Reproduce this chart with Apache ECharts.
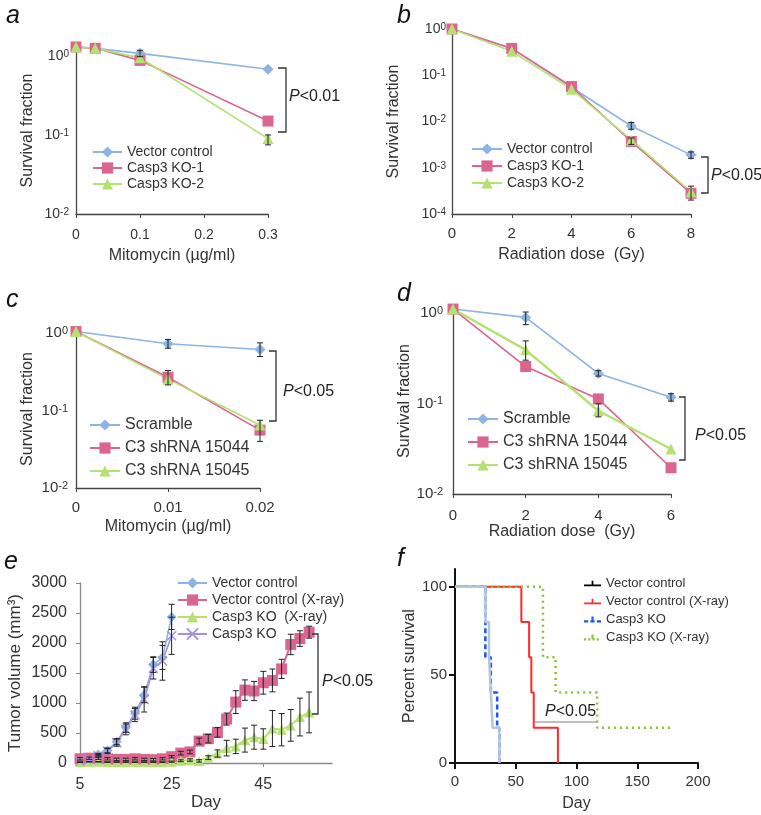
<!DOCTYPE html>
<html><head><meta charset="utf-8">
<script src="https://cdn.jsdelivr.net/npm/echarts@6/dist/echarts.min.js"></script>
<style>html,body{margin:0;padding:0;background:#fff}#c{width:761px;height:815px}</style>
</head><body><div id="c"></div>
<script>
// ---------------- Panel a ----------------
const aDose = [0, 0.03, 0.1, 0.3];
const aVector = [1.3, 1.25, 1.08, 0.68];
const aKO1 = [1.3, 1.25, 0.88, 0.15];
const aKO2 = [1.3, 1.25, 0.95, 0.09];
const aErr = [[0.1, 0.98, 1.18], [0.3, 0.075, 0.1]];
// ---------------- Panel b ----------------
const bDose = [0, 2, 4, 6, 8];
const bVector = [1.0, 0.38, 0.055, 0.008, 0.0019];
const bKO1 = [1.0, 0.38, 0.057, 0.0037, 0.00028];
const bKO2 = [1.0, 0.33, 0.05, 0.004, 0.0003];
const bErr = [[6, 0.0068, 0.0095], [8, 0.0016, 0.0022], [6, 0.0032, 0.0044], [8, 0.0002, 0.0004]];
// ---------------- Panel c ----------------
const cDose = [0, 0.01, 0.02];
const cScramble = [1.05, 0.73, 0.615];
const c15044 = [1.05, 0.27, 0.056];
const c15045 = [1.05, 0.255, 0.065];
const cErr = [[0.01, 0.64, 0.83], [0.02, 0.5, 0.75], [0.01, 0.215, 0.33], [0.02, 0.04, 0.075]];
// ---------------- Panel d ----------------
const dDose = [0, 2, 4, 6];
const dScramble = [1.1, 0.89, 0.214, 0.117];
const d15044 = [1.1, 0.255, 0.112, 0.0195];
const d15045 = [1.1, 0.39, 0.083, 0.0314];
const dErr = [[2, 0.74, 1.02], [4, 0.2, 0.23], [6, 0.106, 0.128], [2, 0.3, 0.49], [4, 0.071, 0.099]];
// ---------------- Panel e ----------------
const eDaysEarly = [5, 7, 9, 11, 13, 15, 17, 19, 21, 23, 25];
const eVector = [28, 55, 140, 210, 355, 590, 830, 1135, 1640, 1760, 2435];
const eVectorErr = [0, 0, 20, 40, 50, 80, 100, 130, 130, 200, 210];
const eKO = [30, 60, 120, 200, 340, 560, 800, 1060, 1580, 1700, 2120];
const eKOErr = [0, 0, 20, 40, 60, 90, 110, 210, 180, 320, 310];
const eDaysAll = [5, 7, 9, 11, 13, 15, 17, 19, 21, 23, 25, 27, 29, 31, 33, 35, 37, 39, 41, 43, 45, 47, 49, 51, 53, 55];
const eVectorXray = [70, 80, 80, 70, 60, 60, 70, 60, 55, 70, 105, 165, 185, 365, 405, 510, 732, 1015, 1215, 1200, 1337, 1376, 1568, 1976, 2074, 2180];
const eVectorXrayErr = [20, 20, 20, 20, 20, 20, 20, 20, 20, 20, 20, 30, 30, 50, 70, 80, 100, 190, 170, 160, 190, 190, 160, 170, 130, 100];
const eKOXray = [15, 20, 20, 15, 15, 15, 15, 15, 15, 15, 22, 38, 50, 35, 90, 158, 248, 277, 382, 430, 400, 575, 555, 627, 766, 843];
const eKOXrayErr = [5, 5, 5, 5, 5, 5, 5, 5, 5, 5, 10, 15, 20, 20, 30, 60, 130, 120, 200, 200, 170, 300, 270, 265, 315, 340];
const eDayLabels = [5, 25, 45];
// ---------------- Panel f ----------------
const fVectorT = [0, 25, 28, 29.5, 31, 36.5];
const fVectorS = [100, 80, 60, 40, 20, 0];
const fVectorXrayT = [0, 54.6, 61, 62.8, 64.8, 84.7];
const fVectorXrayS = [100, 80, 60, 40, 20, 0];
const fKOT = [0, 25, 29.5, 34.7, 36.5];
const fKOS = [100, 60, 40, 20, 0];
const fKOXrayT = [0, 72.4, 82.8, 117, 180];
const fKOXrayS = [100, 60, 40, 20, 20];
const fPctTicks = [0, 50, 100];
const logMinorSteps = [2, 3, 4, 5, 6, 7, 8, 9];

const FONT = '"Liberation Sans", Arial, sans-serif';
const TXT = '#333';
const AX = '#444';
const C_BLUE = '#8DB4E2', C_PINK = '#DA6690', C_GREEN = '#B5E173', C_PURPLE = '#9F93E6';

const zip = (xs, ys) => xs.map((x, i) => [x, ys[i]]);
function lineS(name, gi, xs, ys, color, symbol, size, extra) {
  return Object.assign({
    name, type: 'line', xAxisIndex: gi, yAxisIndex: gi, data: zip(xs, ys),
    symbol, symbolSize: size, showAllSymbol: true,
    lineStyle: { color, width: 1.6 }, itemStyle: { color },
    z: 3, clip: false, animation: false
  }, extra || {});
}
function errS(gi, data, cap) {
  const w = cap || 3;
  return {
    type: 'custom', xAxisIndex: gi, yAxisIndex: gi, data, silent: true, clip: false, z: 4, animation: false,
    renderItem: (p, api) => {
      const x = api.value(0), lo = api.value(1), hi = api.value(2);
      const a = api.coord([x, hi]), b = api.coord([x, lo]);
      const st = { stroke: '#222', lineWidth: 1 };
      return { type: 'group', children: [
        { type: 'line', shape: { x1: a[0], y1: a[1], x2: b[0], y2: b[1] }, style: st },
        { type: 'line', shape: { x1: a[0] - w, y1: a[1], x2: a[0] + w, y2: a[1] }, style: st },
        { type: 'line', shape: { x1: b[0] - w, y1: b[1], x2: b[0] + w, y2: b[1] }, style: st }
      ]};
    }
  };
}
function symErr(xs, ys, es) {
  const out = [];
  xs.forEach((x, i) => { if (es[i] > 0) out.push([x, Math.max(0, ys[i] - es[i]), ys[i] + es[i]]); });
  return out;
}
function logTicks(gi, x0, exps) {
  const data = [];
  exps.forEach(k => {
    data.push([x0, Math.pow(10, k), 1]);
    logMinorSteps.forEach(m => data.push([x0, m * Math.pow(10, k), 0]));
  });
  data.push([x0, Math.pow(10, exps[exps.length - 1] + 1), 1]);
  return {
    type: 'custom', xAxisIndex: gi, yAxisIndex: gi, data, silent: true, clip: true, z: 5, animation: false,
    renderItem: (p, api) => {
      const c = api.coord([api.value(0), api.value(1)]);
      const len = api.value(2) ? 5 : 3;
      return { type: 'line', shape: { x1: c[0] - len, y1: c[1], x2: c[0], y2: c[1] }, style: { stroke: AX, lineWidth: 1 } };
    }
  };
}
const supRich = (fs) => ({
  b: { fontSize: fs, fontFamily: FONT, color: TXT },
  s: { fontSize: Math.round(fs * 0.7), fontFamily: FONT, color: TXT, verticalAlign: 'top' }
});
function supFmt(v) {
  const e = Math.log10(v), r = Math.round(e);
  if (Math.abs(e - r) > 1e-6) return '';
  return '{b|10}{s|' + r + '}';
}
function logY(gi, min, max, margin, nameGap, fs) {
  return {
    gridIndex: gi, type: 'log', logBase: 10, min, max,
    axisLine: { onZero: false, lineStyle: { color: AX, width: 1.3 } },
    axisTick: { show: false }, splitLine: { show: false },
    axisLabel: { formatter: supFmt, rich: supRich(fs), margin },
    name: 'Survival fraction', nameLocation: 'middle', nameGap,
    nameTextStyle: { fontSize: 16, fontFamily: FONT, color: TXT }
  };
}
function linX(gi, min, max, interval, name, margin, nameGap, fs) {
  return {
    gridIndex: gi, type: 'value', min, max, interval,
    axisLine: { onZero: false, lineStyle: { color: AX, width: 1.3 } },
    axisTick: { length: 4, lineStyle: { color: AX } }, splitLine: { show: false },
    axisLabel: { fontSize: fs, fontFamily: FONT, color: TXT, margin },
    name, nameLocation: 'middle', nameGap,
    nameTextStyle: { fontSize: 16, fontFamily: FONT, color: TXT }
  };
}
const strip = n => n.split('|')[1];
function leg(names, left, top, itemGap, fs, itemWidth) {
  return {
    data: names, left, top, padding: 0, orient: 'vertical', itemWidth: itemWidth || 30, itemHeight: 14, itemGap,
    formatter: strip, selectedMode: false,
    textStyle: { fontSize: fs, fontFamily: FONT, color: TXT }
  };
}
const ICON_SOLID = 'path://M0,5h16v1.6h-16z M7.2,1.5h1.6v4h-1.6z';
const ICON_DASH = 'path://M0,5h4v2h-4z M6,5h4v2h-4z M12,5h4v2h-4z M7,1.5h2v4h-2z';
const ICON_DOT = 'path://M0,5h2v2h-2z M4,5h2v2h-2z M8,5h2v2h-2z M12,5h2v2h-2z M16,5h0.01v0.01z M7,1.5h2v4h-2z';

const option = {
  animation: false,
  backgroundColor: '#fff',
  textStyle: { fontFamily: FONT },
  grid: [
    { left: 76, top: 47, width: 192, height: 167 },
    { left: 452, top: 29, width: 239, height: 185 },
    { left: 76, top: 330, width: 184, height: 158 },
    { left: 453, top: 308, width: 218, height: 186 },
    { left: 80, top: 583, width: 252, height: 180 },
    { left: 455, top: 569, width: 243, height: 194 }
  ],
  xAxis: [
    linX(0, 0, 0.3, 0.1, 'Mitomycin (µg/ml)', 14, 34, 14),
    linX(1, 0, 8, 2, 'Radiation dose  (Gy)', 12, 33, 15),
    linX(2, 0, 0.02, 0.01, 'Mitomycin (µg/ml)', 12, 31, 15),
    linX(3, 0, 6, 2, 'Radiation dose  (Gy)', 14, 29, 15),
    {
      gridIndex: 4, type: 'value', min: 5, max: 60,
      axisLine: { onZero: false, lineStyle: { color: '#888', width: 1.3 } },
      axisTick: { length: 4, customValues: eDayLabels, lineStyle: { color: '#888' } },
      axisLabel: { customValues: eDayLabels, fontSize: 16, color: TXT, margin: 14 },
      splitLine: { show: false },
      name: 'Day', nameLocation: 'middle', nameGap: 30,
      nameTextStyle: { fontSize: 17, color: TXT }
    },
    {
      gridIndex: 5, type: 'value', min: 0, max: 200, interval: 50,
      axisLine: { onZero: false, lineStyle: { color: '#111', width: 2 } },
      axisTick: { length: 6, lineStyle: { color: '#111', width: 2 } },
      axisLabel: { fontSize: 15, color: TXT, margin: 11 },
      splitLine: { show: false },
      name: 'Day', nameLocation: 'middle', nameGap: 33,
      nameTextStyle: { fontSize: 16, color: TXT }
    }
  ],
  yAxis: [
    logY(0, 0.01, 1.3, 7, 40, 14),
    logY(1, 0.0001, 1, 6, 50, 14),
    logY(2, 0.01, 1.1, 8, 40, 15),
    logY(3, 0.01, 1.13, 10, 40, 15),
    {
      gridIndex: 4, type: 'value', min: 0, max: 3000, interval: 500,
      axisLine: { show: true, onZero: false, lineStyle: { color: '#888', width: 1.3 } },
      axisTick: { show: true, length: 4, lineStyle: { color: '#888' } },
      axisLabel: { fontSize: 16, color: TXT, margin: 13, formatter: v => String(v) },
      splitLine: { show: false },
      name: 'Tumor volume (mm³)', nameLocation: 'middle', nameGap: 56,
      nameTextStyle: { fontSize: 17, color: TXT }
    },
    {
      gridIndex: 5, type: 'value', min: 0, max: 110,
      axisLine: { show: true, onZero: false, lineStyle: { color: '#111', width: 2 } },
      axisTick: { show: true, length: 6, customValues: fPctTicks, lineStyle: { color: '#111', width: 2 } },
      axisLabel: { customValues: fPctTicks, fontSize: 15, color: TXT, margin: 8 },
      splitLine: { show: false },
      name: 'Percent survival', nameLocation: 'middle', nameGap: 27,
      nameTextStyle: { fontSize: 16, color: TXT }
    }
  ],
  legend: [
    leg(['a|Vector control', 'a|Casp3 KO-1', 'a|Casp3 KO-2'], 92, 145, 2, 14, 29),
    leg(['b|Vector control', 'b|Casp3 KO-1', 'b|Casp3 KO-2'], 471, 142, 3, 14, 30),
    leg(['c|Scramble', 'c|C3 shRNA 15044', 'c|C3 shRNA 15045'], 89, 417, 7, 16, 30),
    leg(['d|Scramble', 'd|C3 shRNA 15044', 'd|C3 shRNA 15045'], 467, 411, 7, 16, 30),
    leg(['e|Vector control', 'e|Vector control (X-ray)', 'e|Casp3 KO  (X-ray)', 'e|Casp3 KO'], 177, 576, 3, 14, 29),
    {
      data: [
        { name: 'f|Vector control', icon: ICON_SOLID, itemStyle: { color: '#000' } },
        { name: 'f|Vector control (X-ray)', icon: ICON_SOLID },
        { name: 'f|Casp3 KO', icon: ICON_DASH },
        { name: 'f|Casp3 KO (X-ray)', icon: ICON_DOT }
      ],
      left: 584, top: 577, padding: 0, orient: 'vertical', itemWidth: 17, itemHeight: 10, itemGap: 5,
      formatter: strip, selectedMode: false,
      textStyle: { fontSize: 13, color: TXT }
    }
  ],
  series: [
    // a
    lineS('a|Vector control', 0, aDose, aVector, C_BLUE, 'diamond', 11),
    lineS('a|Casp3 KO-1', 0, aDose, aKO1, C_PINK, 'rect', 11),
    lineS('a|Casp3 KO-2', 0, aDose, aKO2, C_GREEN, 'triangle', 11),
    errS(0, aErr), logTicks(0, 0, [-2, -1]),
    // b
    lineS('b|Vector control', 1, bDose, bVector, C_BLUE, 'diamond', 11),
    lineS('b|Casp3 KO-1', 1, bDose, bKO1, C_PINK, 'rect', 11),
    lineS('b|Casp3 KO-2', 1, bDose, bKO2, C_GREEN, 'triangle', 11),
    errS(1, bErr), logTicks(1, 0, [-4, -3, -2, -1]),
    // c
    lineS('c|Scramble', 2, cDose, cScramble, C_BLUE, 'diamond', 11),
    lineS('c|C3 shRNA 15044', 2, cDose, c15044, C_PINK, 'rect', 11),
    lineS('c|C3 shRNA 15045', 2, cDose, c15045, C_GREEN, 'triangle', 11),
    errS(2, cErr), logTicks(2, 0, [-2, -1]),
    // d
    lineS('d|Scramble', 3, dDose, dScramble, C_BLUE, 'diamond', 11),
    lineS('d|C3 shRNA 15044', 3, dDose, d15044, C_PINK, 'rect', 11),
    lineS('d|C3 shRNA 15045', 3, dDose, d15045, C_GREEN, 'triangle', 11, { lineStyle: { color: C_GREEN, width: 2.4 } }),
    errS(3, dErr), logTicks(3, 0, [-2, -1]),
    // e
    errS(4, symErr(eDaysEarly, eVector, eVectorErr)),
    errS(4, symErr(eDaysEarly, eKO, eKOErr)),
    errS(4, symErr(eDaysAll, eVectorXray, eVectorXrayErr)),
    errS(4, symErr(eDaysAll, eKOXray, eKOXrayErr)),
    lineS('e|Vector control', 4, eDaysEarly, eVector, C_BLUE, 'diamond', 10),
    lineS('e|Vector control (X-ray)', 4, eDaysAll, eVectorXray, C_PINK, 'rect', 11, { lineStyle: { color: C_PINK, width: 2 } }),
    lineS('e|Casp3 KO  (X-ray)', 4, eDaysAll, eKOXray, C_GREEN, 'triangle', 10, { lineStyle: { color: C_GREEN, width: 2 } }),
    lineS('e|Casp3 KO', 4, eDaysEarly, eKO, C_PURPLE, 'path://M0,0L10,10M10,0L0,10', 9,
      { itemStyle: { color: C_PURPLE, borderColor: C_PURPLE, borderWidth: 1.5 } }),
    // f
    lineS('f|Casp3 KO', 5, fKOT, fKOS, '#1F55F0', 'none', 0, { step: 'end', lineStyle: { color: '#1F55F0', width: 2.5, type: [5, 3] } }),
    lineS('f|Vector control', 5, fVectorT, fVectorS, '#B4C6DC', 'none', 0, { step: 'end', z: 4, lineStyle: { color: '#B4C6DC', width: 2.5 } }),
    lineS('f|Vector control (X-ray)', 5, fVectorXrayT, fVectorXrayS, '#FF2A2A', 'none', 0, { step: 'end', lineStyle: { color: '#FF2A2A', width: 2 } }),
    lineS('f|Casp3 KO (X-ray)', 5, fKOXrayT, fKOXrayS, '#86C232', 'none', 0, { step: 'end', lineStyle: { color: '#86C232', width: 2.5, type: [2, 4] } })
  ],
  graphic: []
};

const pRich = (fs) => ({
  i: { fontStyle: 'italic', fontSize: fs, fontFamily: FONT, fill: '#222' },
  n: { fontSize: fs, fontFamily: FONT, fill: '#222' }
});
function pText(x, y, txt, fs) {
  return { type: 'text', style: { x, y, text: '{i|P}{n|' + txt + '}', rich: pRich(fs), verticalAlign: 'middle' }, z: 10 };
}
function bracket(x, y1, y2, arm) {
  return { type: 'polyline', shape: { points: [[x - arm, y1], [x, y1], [x, y2], [x - arm, y2]] }, style: { stroke: '#333', lineWidth: 1.3, fill: null }, z: 10 };
}
function letter(t, x, y) {
  return { type: 'text', style: { x, y, text: t, font: 'italic 25px ' + FONT, fill: '#111', verticalAlign: 'middle' }, z: 10 };
}
option.graphic = [
  letter('a', 6, 16), letter('b', 397, 16), letter('c', 6, 300), letter('d', 397, 294), letter('e', 4, 562), letter('f', 397, 559),
  bracket(286, 68, 132, 8), pText(289, 97, '<0.01', 16),
  bracket(708, 157, 193, 7), pText(711, 176, '<0.05', 16),
  bracket(276, 351, 421, 7), pText(283, 392, '<0.05', 16),
  bracket(685, 397, 460, 6), pText(695, 436, '<0.05', 16),
  bracket(318, 634, 714, 6), pText(322, 682, '<0.05', 16),
  { type: 'line', shape: { x1: 535, y1: 722, x2: 597, y2: 722 }, style: { stroke: '#aaa', lineWidth: 1.5 }, z: 10 },
  pText(545, 712, '<0.05', 16)
];

const chart = echarts.init(document.getElementById('c'), null, { renderer: 'canvas' });
chart.setOption(option);
</script>
</body></html>
